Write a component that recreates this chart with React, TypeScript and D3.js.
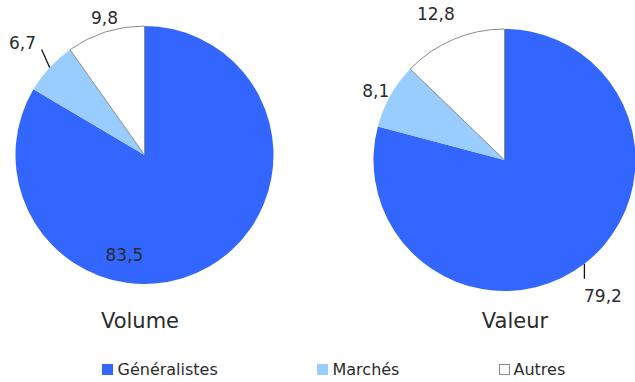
/* eslint-disable */
import React, { useRef, useEffect } from "react";
import * as d3 from "d3";

// Data
const categories = ["Généralistes", "Marchés", "Autres"];
const volumeValues = [83.5, 6.7, 9.8];
const valeurValues = [79.2, 8.1, 12.8];
const chartTitles = ["Volume", "Valeur"];
const colors = ["#3366FF", "#99CCFF", "#FFFFFF"];

// Label placement (angle in degrees clockwise from 12 o'clock, radius as fraction of pie radius)
// leader = offset of the leader line end from the slice edge point
const volumeLabelPos = [
  { angle: 191.4, r: 0.787, leader: null },
  { angle: 312.7, r: 1.287, leader: { dx: -8, dy: -18 } },
  { angle: 343.8, r: 1.11, leader: null },
];
const valeurLabelPos = [
  { angle: 144.1, r: 1.282, leader: { dx: 0, dy: 15 } },
  { angle: 298.4, r: 1.117, leader: null },
  { angle: 334.9, r: 1.235, leader: null },
];

const fmt = (v: number) => v.toFixed(1).replace(".", ",");

const App = () => {
  const svgRef = useRef<SVGSVGElement>(null);

  useEffect(() => {
    if (!svgRef.current) return;
    const svg = d3.select(svgRef.current);
    svg.selectAll("*").remove();

    const width = 635;
    const height = 382;
    const font = "'DejaVu Sans', sans-serif";
    const textColor = "#2b2b2b";

    svg
      .attr("width", width)
      .attr("height", height)
      .attr("viewBox", [0, 0, width, height])
      .style("font-family", font);

    const pies = [
      { values: volumeValues, cx: 144.5, cy: 155, r: 129, labels: volumeLabelPos, title: chartTitles[0], titleX: 140 },
      { values: valeurValues, cx: 504.5, cy: 160, r: 131, labels: valeurLabelPos, title: chartTitles[1], titleX: 515 },
    ];

    const pie = d3
      .pie<number>()
      .sort(null)
      .value((d) => d)
      .startAngle(0)
      .endAngle(2 * Math.PI);

    const polar = (deg: number, rad: number) => {
      const a = (deg * Math.PI) / 180;
      return [Math.sin(a) * rad, -Math.cos(a) * rad];
    };

    pies.forEach((p) => {
      const g = svg.append("g").attr("transform", `translate(${p.cx},${p.cy})`);
      const arc = d3.arc<d3.PieArcDatum<number>>().innerRadius(0).outerRadius(p.r);
      const arcs = pie(p.values);

      g.selectAll("path")
        .data(arcs)
        .join("path")
        .attr("d", arc)
        .attr("fill", (_, i) => colors[i])
        .attr("stroke", (_, i) => (i === 2 ? "#8a8a8a" : "none"))
        .attr("stroke-width", 1);

      // leader lines
      arcs.forEach((a, i) => {
        const lp = p.labels[i];
        if (!lp.leader) return;
        const mid = ((a.startAngle + a.endAngle) / 2) * (180 / Math.PI);
        const [x1, y1] = polar(mid, p.r);
        g.append("line")
          .attr("x1", x1)
          .attr("y1", y1)
          .attr("x2", x1 + lp.leader.dx)
          .attr("y2", y1 + lp.leader.dy)
          .attr("stroke", "#111")
          .attr("stroke-width", 1.3);
      });

      // data labels
      g.selectAll("text.lbl")
        .data(arcs)
        .join("text")
        .attr("class", "lbl")
        .attr("x", (_, i) => polar(p.labels[i].angle, p.r * p.labels[i].r)[0])
        .attr("y", (_, i) => polar(p.labels[i].angle, p.r * p.labels[i].r)[1])
        .attr("dy", "0.36em")
        .attr("text-anchor", "middle")
        .attr("font-size", 17)
        .attr("fill", textColor)
        .text((d) => fmt(d.data));

      svg
        .append("text")
        .attr("x", p.titleX)
        .attr("y", 328)
        .attr("text-anchor", "middle")
        .attr("font-size", 21)
        .attr("fill", textColor)
        .text(p.title);
    });

    // Legend
    const legendX = [102, 317, 499];
    const legend = svg
      .append("g")
      .selectAll("g")
      .data(categories)
      .join("g")
      .attr("transform", (_, i) => `translate(${legendX[i]},364)`);

    legend
      .append("rect")
      .attr("x", 0.5)
      .attr("y", 0.5)
      .attr("width", 10)
      .attr("height", 10)
      .attr("fill", (_, i) => colors[i])
      .attr("stroke", (_, i) => (i === 2 ? "#8a8a8a" : colors[i]));

    legend
      .append("text")
      .attr("x", (_, i) => (i === 2 ? 14.5 : 15.5))
      .attr("y", 11)
      .attr("font-size", 16)
      .attr("fill", textColor)
      .text((d) => d);
  }, []);

  return (
    <svg
      ref={svgRef}
      style={{ position: "absolute", left: 0, top: 0, display: "block" }}
    ></svg>
  );
};

export default App;
